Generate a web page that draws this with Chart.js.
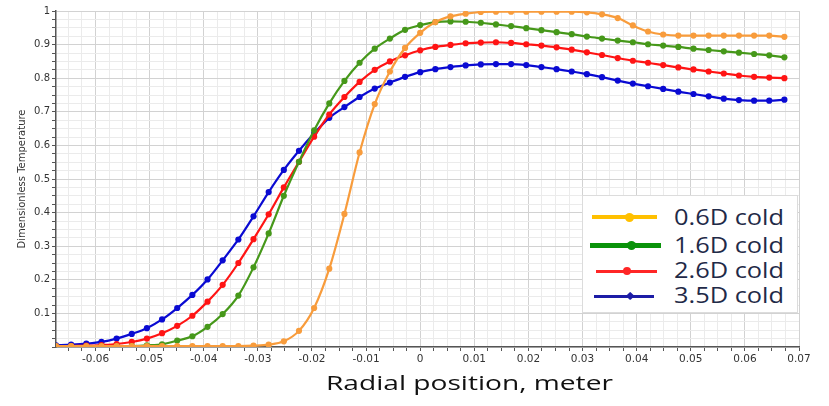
<!DOCTYPE html>
<html>
<head>
<meta charset="utf-8">
<script src="https://cdn.jsdelivr.net/npm/chart.js@4.4.1/dist/chart.umd.min.js"></script>
<style>
html,body{margin:0;padding:0;background:#fff;}
#wrap{position:relative;width:829px;height:406px;overflow:hidden;background:#fff;}
#c{position:absolute;left:0;top:0;}
#legendBox{position:absolute;left:582px;top:195px;width:216px;height:118px;background:#fff;border:1px solid #dcdcdc;box-sizing:border-box;}
.sw{position:absolute;}
.txt{position:absolute;font-family:'Open Sans';white-space:nowrap;line-height:1;transform-origin:0 0;}
</style>
</head>
<body>
<div id="wrap">
  <canvas id="c" width="829" height="406"></canvas>
  <div id="legendBox"></div>
  <div id="legendItems"></div>
  <div id="xtitle" class="txt">Radial position, meter</div>
</div>
<script>
// ---------------- DATA ----------------
const radialPosition = [
 -0.0673,-0.0645,-0.0617,-0.0589,-0.0561,-0.0533,-0.0505,-0.0477,-0.0449,-0.0421,
 -0.0393,-0.0365,-0.0336,-0.0308,-0.0280,-0.0252,-0.0224,-0.0196,-0.0168,-0.0140,
 -0.0112,-0.0084,-0.0056,-0.0028,0,0.0028,0.0056,0.0084,0.0112,0.0140,
 0.0168,0.0196,0.0224,0.0252,0.0280,0.0308,0.0336,0.0365,0.0393,0.0421,
 0.0449,0.0477,0.0505,0.0533,0.0561,0.0589,0.0617,0.0645,0.0673
];
const cold06D = [
 0.003,0.003,0.003,0.003,0.003,0.003,0.003,0.003,0.003,0.003,
 0.003,0.003,0.003,0.004,0.007,0.017,0.048,0.116,0.233,0.396,
 0.579,0.723,0.820,0.890,0.935,0.967,0.984,0.992,0.997,0.998,
 0.998,0.998,0.998,0.998,0.998,0.996,0.990,0.979,0.957,0.939,
 0.930,0.927,0.927,0.927,0.927,0.927,0.927,0.927,0.923
];
const cold16D = [
 0.001,0.001,0.001,0.002,0.002,0.003,0.005,0.008,0.019,0.032,
 0.060,0.098,0.153,0.237,0.338,0.450,0.551,0.645,0.725,0.792,
 0.846,0.888,0.918,0.944,0.958,0.967,0.969,0.968,0.965,0.960,
 0.955,0.949,0.943,0.937,0.931,0.924,0.918,0.912,0.907,0.901,
 0.897,0.893,0.888,0.884,0.880,0.876,0.872,0.868,0.862
];
const cold26D = [
 0.002,0.003,0.004,0.006,0.009,0.015,0.025,0.041,0.063,0.093,
 0.135,0.185,0.250,0.321,0.395,0.475,0.551,0.626,0.692,0.744,
 0.789,0.825,0.850,0.868,0.883,0.893,0.899,0.904,0.906,0.907,
 0.905,0.901,0.897,0.892,0.885,0.877,0.869,0.860,0.852,0.846,
 0.839,0.832,0.826,0.820,0.814,0.808,0.804,0.802,0.800
];
const cold35D = [
 0.005,0.007,0.010,0.015,0.025,0.039,0.056,0.082,0.116,0.155,
 0.201,0.258,0.320,0.389,0.461,0.527,0.584,0.636,0.682,0.714,
 0.744,0.769,0.787,0.804,0.818,0.827,0.833,0.838,0.841,0.842,
 0.842,0.839,0.833,0.827,0.820,0.812,0.803,0.793,0.784,0.776,
 0.768,0.760,0.753,0.746,0.739,0.735,0.733,0.733,0.736
];
const seriesNames = ['0.6D cold','1.6D cold','2.6D cold','3.5D cold'];
const xTickLabels = [-0.06,-0.05,-0.04,-0.03,-0.02,-0.01,0,0.01,0.02,0.03,0.04,0.05,0.06,0.07];
const yTickLabels = [0.1,0.2,0.3,0.4,0.5,0.6,0.7,0.8,0.9,1];

// ---------------- STYLE ----------------
const lineColors = ['#f89c3c','#46981a','#ff1414','#0a0ad2'];
const legendColors = ['#ffc000','#0a930a','#ff2626','#1c1ca6'];
const X_MIN = -0.0673, X_MAX = 0.07, X_MINOR = 0.0025;
const Y_MIN = 0, Y_MAX = 1, Y_MINOR = 0.025;

const seriesValues = [cold06D, cold16D, cold26D, cold35D];
const isMajor = (v, list) => list.some(t => Math.abs(v - t) < 1e-7);

const datasets = seriesNames.map((name, k) => ({
  label: name,
  data: radialPosition.map((x, i) => ({x: x, y: seriesValues[k][i]})),
  borderColor: lineColors[k],
  backgroundColor: lineColors[k],
  borderWidth: 2.2,
  pointRadius: 3.1,
  pointBorderWidth: 0,
  pointHoverRadius: 3.1,
  cubicInterpolationMode: 'monotone',
  fill: false
}));

const ctx = document.getElementById('c').getContext('2d');
new Chart(ctx, {
  type: 'line',
  data: {datasets: datasets},
  options: {
    responsive: false,
    animation: false,
    devicePixelRatio: 1,
    layout: {padding: {left: 16, right: 30, top: 11, bottom: 0}},
    plugins: {legend: {display: false}, tooltip: {enabled: false}},
    scales: {
      x: {
        type: 'linear', min: X_MIN, max: X_MAX,
        afterBuildTicks: s => {
          const t = [];
          for (let k = Math.ceil(X_MIN / X_MINOR - 1e-9); k * X_MINOR <= X_MAX + 1e-9; k++) t.push({value: Math.round(k * X_MINOR * 1e6) / 1e6});
          s.ticks = t;
        },
        ticks: {
          autoSkip: false, maxRotation: 0, minRotation: 0, padding: 2,
          color: '#333', font: {family: 'DejaVu Sans', size: 10.5},
          callback: v => { const t = xTickLabels.find(q => Math.abs(q - v) < 1e-7); return t === undefined ? '' : String(t); }
        },
        grid: {
          color: c => (c.tick && isMajor(c.tick.value, xTickLabels)) ? '#d2d2d2' : '#ebebeb',
          lineWidth: 1, tickLength: 4, tickColor: '#555'
        },
        border: {display: true, color: '#555', width: 1.5},
        afterFit: s => { s.height = 406 - 347; }
      },
      y: {
        type: 'linear', min: Y_MIN, max: Y_MAX,
        afterBuildTicks: s => {
          const t = [];
          for (let k = 0; k * Y_MINOR <= Y_MAX + 1e-9; k++) t.push({value: Math.round(k * Y_MINOR * 1e6) / 1e6});
          s.ticks = t;
        },
        ticks: {
          autoSkip: false, padding: 2,
          color: '#333', font: {family: 'DejaVu Sans', size: 10},
          callback: v => { const t = yTickLabels.find(q => Math.abs(q - v) < 1e-7); return t === undefined ? '' : String(t); }
        },
        grid: {
          color: c => (c.tick && isMajor(c.tick.value, yTickLabels)) ? '#d2d2d2' : '#ebebeb',
          lineWidth: 1, tickLength: 4, tickColor: '#555'
        },
        border: {display: true, color: '#555', width: 1.5},
        title: {display: true, text: 'Dimensionless Temperature', color: '#333', font: {family: 'DejaVu Sans', size: 10}, padding: 0},
        afterFit: s => { s.width = 56 - 16; }
      }
    }
  }
});

// ---------------- LEGEND (HTML) ----------------
const legendRows = [
  {x1: 592, x2: 657, y: 217, th: 4,   mx: 629, ms: 9, shape: 'circle',  ty: 205},
  {x1: 590, x2: 661, y: 245, th: 5,   mx: 631, ms: 9, shape: 'circle',  ty: 233},
  {x1: 596, x2: 657, y: 271, th: 3,   mx: 627, ms: 8, shape: 'circle',  ty: 258},
  {x1: 594, x2: 654, y: 296.5, th: 3.5, mx: 630, ms: 8, shape: 'diamond', ty: 283}
];
const measurer = document.createElement('canvas').getContext('2d');
function fitWidth(el, text, font, target) {
  measurer.font = font;
  const w = measurer.measureText(text).width;
  el.style.transform = 'scaleX(' + (target / w).toFixed(3) + ')';
}
const holder = document.getElementById('legendItems');
seriesNames.forEach((name, k) => {
  const r = legendRows[k];
  const line = document.createElement('div');
  line.className = 'sw';
  line.style.cssText = `left:${r.x1}px;top:${r.y - r.th / 2}px;width:${r.x2 - r.x1}px;height:${r.th}px;background:${legendColors[k]};`;
  holder.appendChild(line);
  const mk = document.createElement('div');
  mk.className = 'sw';
  const rad = r.shape === 'circle' ? '50%' : '1px';
  const rot = r.shape === 'diamond' ? 'transform:rotate(45deg);' : '';
  const sz = r.shape === 'diamond' ? r.ms * 0.8 : r.ms;
  mk.style.cssText = `left:${r.mx - sz / 2}px;top:${r.y - sz / 2}px;width:${sz}px;height:${sz}px;border-radius:${rad};background:${legendColors[k]};${rot}`;
  holder.appendChild(mk);
  const t = document.createElement('div');
  t.className = 'txt';
  t.textContent = name;
  t.style.cssText += `left:674px;top:${r.ty}px;font-size:22px;color:#1f2a48;`;
  holder.appendChild(t);
  fitWidth(t, name, "22px 'Open Sans'", 110);
});

const xt = document.getElementById('xtitle');
xt.style.left = '326px';
xt.style.top = '373px';
xt.style.fontSize = '20px';
xt.style.color = '#111';
fitWidth(xt, 'Radial position, meter', "20px 'Open Sans'", 287);
</script>
</body>
</html>
